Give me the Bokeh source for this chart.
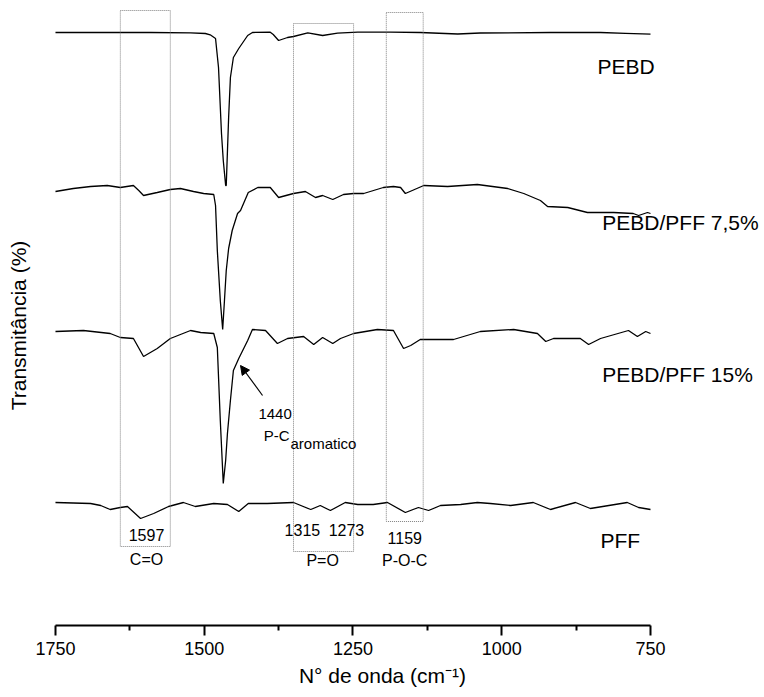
from bokeh.plotting import figure
from bokeh.models import Range1d, Label, Arrow, NormalHead, FixedTicker
from bokeh.embed import file_html
from bokeh.resources import INLINE

# ---------------- data (wavenumber cm^-1, offset transmittance, arbitrary units) ----------------
pebd_wn = [1750, 1674, 1590, 1523, 1498, 1490, 1481, 1476, 1471, 1468, 1464, 1463, 1459, 1456, 1451,
           1442, 1427, 1419, 1389, 1384, 1375, 1360, 1350, 1326, 1301, 1276, 1242, 1187, 1137, 1074,
           1036, 918, 834, 792, 750]
pebd_t = [593, 593, 593, 592.7, 592, 590.7, 587, 558, 492, 465, 440, 440, 508, 548, 568,
          577, 590, 593, 593.3, 591, 585, 588, 589, 592.7, 590, 592.3, 593.3, 593.3, 593, 591.5,
          592.5, 593, 593, 592.2, 591.3]

p75_wn = [1750, 1720, 1691, 1663, 1641, 1619, 1610, 1602, 1579, 1557, 1540, 1518, 1501, 1484, 1481,
          1478, 1473, 1469, 1466, 1463, 1459, 1453, 1444, 1439, 1426, 1410, 1389, 1375, 1350, 1330,
          1313, 1301, 1284, 1266, 1249, 1232, 1199, 1182, 1170, 1162, 1131, 1091, 1041, 990, 963,
          935, 923, 889, 856, 812, 779, 770, 755, 750]
p75_t = [434, 437, 439, 440, 438, 440, 435, 430, 433, 436, 437, 434, 432, 431, 420,
         375, 325, 296, 325, 355, 377, 395, 412, 415, 433, 438, 438, 428, 432, 434,
         428, 430, 426, 431, 432, 432, 438, 439, 438, 432, 440, 439, 441, 437, 432,
         425, 419, 418, 413, 413, 412, 410, 413, 412]

p15_wn = [1750, 1703, 1658, 1641, 1619, 1602, 1579, 1557, 1523, 1506, 1484, 1478, 1473, 1468, 1464,
          1461, 1456, 1451, 1442, 1427, 1419, 1397, 1377, 1360, 1333, 1316, 1301, 1284, 1271, 1249,
          1209, 1182, 1165, 1153, 1137, 1081, 1036, 980, 940, 926, 913, 868, 854, 834, 787,
          772, 758, 750]
p15_t = [294, 295, 292, 288, 287, 269, 277, 287, 295, 293, 292, 278, 205, 142, 165,
         192, 225, 255, 267, 285, 296, 295, 282, 287, 289, 281, 288, 282, 287, 292,
         296, 295, 277, 280, 286, 286, 294, 296, 292, 284, 287, 287, 281, 287, 295,
         289, 294, 292]

pff_wn = [1750, 1691, 1674, 1658, 1641, 1629, 1607, 1585, 1560, 1535, 1515, 1484, 1461, 1442, 1426,
          1394, 1350, 1321, 1305, 1288, 1263, 1242, 1216, 1192, 1162, 1140, 1123, 1103, 1069, 1041,
          1019, 985, 947, 918, 876, 851, 789, 770, 750]
pff_t = [123, 122, 120, 116, 118, 119, 107, 112, 119, 123, 119, 122, 121, 114, 122,
         122, 123, 116, 120, 115, 123, 121, 121, 123, 113, 118, 115, 120, 121, 123,
         122, 120, 123, 116, 123, 117, 123, 118, 116]

series_names = ["PEBD", "PEBD/PFF 7,5%", "PEBD/PFF 15%", "PFF"]
label_wn = [839, 831, 831, 834]
label_t = [559, 403, 251, 85]

# highlighted band regions: left wn, right wn, top, bottom
box_left = [1641, 1350, 1194]
box_right = [1557, 1249, 1132]
box_top = [615, 602, 613]
box_bottom = [79, 74, 104]

# band annotations
band_text = ["1597", "C=O", "1315", "1273", "P=O", "1159", "P-O-C"]
band_wn = [1597, 1597, 1335, 1261, 1301, 1163, 1163]
band_t = [91, 66, 96, 96, 65, 88, 65]

x_ticks = [1750, 1500, 1250, 1000, 750]
minor_ticks = [1625, 1375, 1125, 875]

FONT = "Liberation Sans"

p = figure(width=764, height=697, output_backend="svg", toolbar_location=None,
           x_range=Range1d(1842.4, 558.4), y_range=Range1d(0, 625),
           min_border_left=0, min_border_right=0, min_border_top=0, min_border_bottom=72)
p.outline_line_color = None
p.grid.visible = False
p.background_fill_color = "white"
p.border_fill_color = "white"

for wn, t in [(pebd_wn, pebd_t), (p75_wn, p75_t), (p15_wn, p15_t), (pff_wn, pff_t)]:
    p.line(wn, t, line_color="black", line_width=1.3)

# dotted rectangles
for l, r, tp, b in zip(box_left, box_right, box_top, box_bottom):
    p.line([l, r, r, l, l], [tp, tp, b, b, tp], line_color="#808080", line_width=1, line_dash="1 1")

# x axis
ax = p.xaxis[0]
ax.ticker = FixedTicker(ticks=x_ticks, minor_ticks=minor_ticks)
ax.bounds = (750, 1750)
ax.axis_line_width = 2
ax.axis_line_color = "black"
ax.major_tick_line_width = 2
ax.minor_tick_line_width = 2
ax.major_tick_line_color = "black"
ax.minor_tick_line_color = "black"
ax.major_tick_out = 10
ax.major_tick_in = 0
ax.minor_tick_out = 5
ax.minor_tick_in = 0
ax.major_label_text_font = FONT
ax.major_label_text_font_size = "18px"
ax.major_label_text_color = "black"
ax.major_label_standoff = 6
ax.axis_label = "N° de onda (cm⁻¹)"
ax.axis_label_text_font = FONT
ax.axis_label_text_font_size = "21px"
ax.axis_label_text_font_style = "normal"
ax.axis_label_text_color = "black"
ax.axis_label_standoff = 6
p.yaxis.visible = False

# y title
p.add_layout(Label(x=1812, y=300, text="Transmitância (%)", angle=1.5708, text_align="center",
                   text_baseline="middle", text_font=FONT, text_font_size="21px",
                   text_color="black"))

# series labels
for name, lx, ly in zip(series_names, label_wn, label_t):
    p.add_layout(Label(x=lx, y=ly, text=name, text_align="left", text_baseline="middle",
                       text_font=FONT, text_font_size="21px", text_color="black"))

for txt, bx, by in zip(band_text, band_wn, band_t):
    p.add_layout(Label(x=bx, y=by, text=txt, text_align="center", text_baseline="middle",
                       text_font=FONT, text_font_size="16px", text_color="black"))

p.add_layout(Label(x=1409, y=212, text="1440", text_align="left", text_baseline="middle",
                   text_font=FONT, text_font_size="15px", text_color="black"))
p.add_layout(Label(x=1400, y=190, text="P-C", text_align="left", text_baseline="middle",
                   text_font=FONT, text_font_size="15px", text_color="black"))
p.add_layout(Label(x=1355, y=182, text="aromatico", text_align="left", text_baseline="middle",
                   text_font=FONT, text_font_size="15px", text_color="black"))

p.add_layout(Arrow(end=NormalHead(size=9, fill_color="black", line_color="black"),
                   x_start=1402, y_start=230, x_end=1439, y_end=260,
                   line_color="black", line_width=1.2))

open("out.html", "w").write(file_html(p, INLINE))
